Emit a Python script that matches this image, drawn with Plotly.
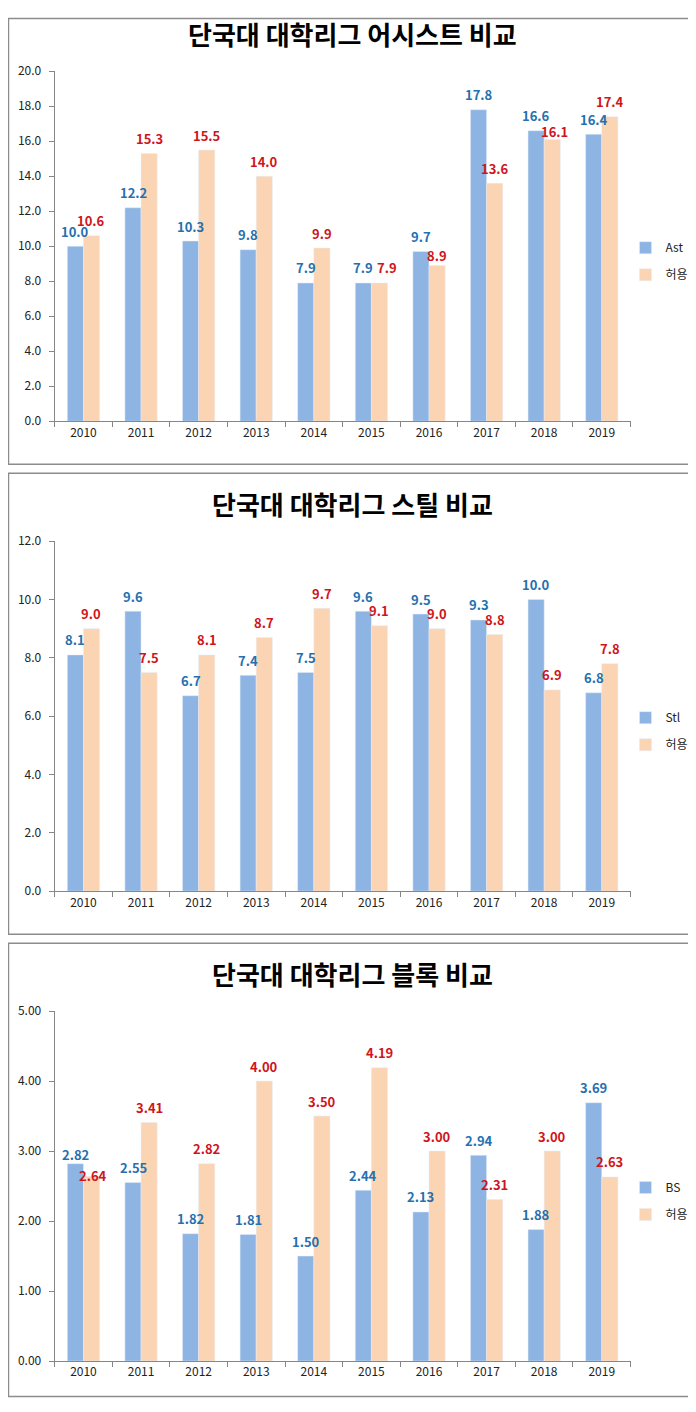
import plotly.graph_objects as go

# 데이터
years = ['2010', '2011', '2012', '2013', '2014', '2015', '2016', '2017', '2018', '2019']

ast = [10.0, 12.2, 10.3, 9.8, 7.9, 7.9, 9.7, 17.8, 16.6, 16.4]
ast_allowed = [10.6, 15.3, 15.5, 14.0, 9.9, 7.9, 8.9, 13.6, 16.1, 17.4]

stl = [8.1, 9.6, 6.7, 7.4, 7.5, 9.6, 9.5, 9.3, 10.0, 6.8]
stl_allowed = [9.0, 7.5, 8.1, 8.7, 9.7, 9.1, 9.0, 8.8, 6.9, 7.8]

bs = [2.82, 2.55, 1.82, 1.81, 1.50, 2.44, 2.13, 2.94, 1.88, 3.69]
bs_allowed = [2.64, 3.41, 2.82, 4.00, 3.50, 4.19, 3.00, 2.31, 3.00, 2.63]

titles = ['단국대 대학리그 어시스트 비교', '단국대 대학리그 스틸 비교', '단국대 대학리그 블록 비교']
names = ['Ast', 'Stl', 'BS']

# 브라우저 기본 body 여백(8px) 고려
OX, OY = 8, 8
W, H = 688, 1396
# 캡처 시 축소 보정 (측정값)
Y0, S = 8.8, 0.988
FONT = 'Noto Sans CJK KR'
BLUE = '#8DB4E2'
PEACH = '#FBD4B4'
BLUE_TXT = '#2570B0'
RED_TXT = '#D0141C'

panels = [
    (ast, ast_allowed, 20, 2, '{:.1f}', '.1f'),
    (stl, stl_allowed, 12, 2, '{:.1f}', '.1f'),
    (bs, bs_allowed, 5, 1, '{:.2f}', '.2f'),
]

# 엑셀에서 손으로 옮긴 라벨 위치 보정 (panel, series, index) -> (dx, dy) px
nudge = {
    (0, 1, 5): (8, 0),
    (0, 1, 6): (0, -5),
    (0, 1, 8): (2, -7),
    (2, 0, 0): (0, -6),
    (2, 1, 0): (2, -14),
}


def px(p):
    page = p / S
    return min(max((page - OX) / W, 0.0007), 0.9975)


def py(p):
    page = (p - Y0) / S
    return min(max(1 - (page - OY) / H, 0.0004), 0.9996)


fig = go.Figure()
layout = dict(width=W, height=H, margin=dict(l=0, r=0, t=0, b=0),
              paper_bgcolor='white', plot_bgcolor='white',
              barmode='group', bargap=0.44, bargroupgap=0,
              font=dict(family=FONT, size=12, color='#222'),
              shapes=[], annotations=[])

for i, (a, b, ymax, dtick, fmtstr, fmt) in enumerate(panels):
    off = 470 * i
    sfx = '' if i == 0 else str(i + 1)
    xa, ya = 'x' + sfx, 'y' + sfx
    lg = 'legend' + sfx

    for s, (vals, nm, col, tcol) in enumerate([(a, names[i], BLUE, BLUE_TXT),
                                                (b, '허용', PEACH, RED_TXT)]):
        fig.add_trace(go.Bar(x=years, y=vals, name=nm, marker_color=col,
                             legendgroup=nm + sfx, xaxis=xa, yaxis=ya, legend=lg))
        for k, v in enumerate(vals):
            dx, dy = nudge.get((i, s, k), (0, 0))
            layout['annotations'].append(dict(
                text='<b>' + fmtstr.format(v) + '</b>', x=k, y=v, xref=xa, yref=ya,
                showarrow=False, xanchor='center', yanchor='middle',
                xshift=(-8 if s == 0 else 8) + dx, yshift=15 + dy,
                font=dict(size=13, color=tcol, family=FONT)))

    layout['xaxis' + sfx] = dict(type='category', domain=[px(54), px(623)], anchor=ya,
                                  range=[-0.5, len(years) - 0.5],
                                  showline=True, linecolor='#868686', linewidth=1,
                                  ticks='outside', tickson='boundaries', ticklen=5,
                                  tickcolor='#868686', showgrid=False,
                                  tickfont=dict(size=12, color='#222'))
    layout['yaxis' + sfx] = dict(domain=[py(420 + off), py(70 + off)], anchor=xa,
                                  range=[0, ymax], dtick=dtick, tickformat=fmt,
                                  showline=True, linecolor='#868686', linewidth=1,
                                  ticks='outside', ticklen=5, tickcolor='#868686',
                                  ticklabelstandoff=5,
                                  showgrid=False, zeroline=False,
                                  tickfont=dict(size=12, color='#222'))
    layout[lg] = dict(x=px(618), y=py(232 + off), xanchor='left', yanchor='top',
                      bgcolor='rgba(0,0,0,0)', font=dict(size=12, color='#222'),
                      itemwidth=30, traceorder='grouped', tracegroupgap=8)

    layout['shapes'].append(dict(type='rect', xref='paper', yref='paper',
                                 x0=px(2), x1=px(693), y0=py(463 + off), y1=py(2 + off),
                                 line=dict(color='#8C8C8C', width=1.5)))
    layout['annotations'].append(dict(text='<b>' + titles[i] + '</b>', xref='paper', yref='paper',
                                      x=px(348), y=py(32 + off), showarrow=False,
                                      xanchor='center', yanchor='middle',
                                      font=dict(size=26, color='black', family=FONT)))

fig.update_layout(**layout)
fig.write_html('out.html', config={'displayModeBar': False})
